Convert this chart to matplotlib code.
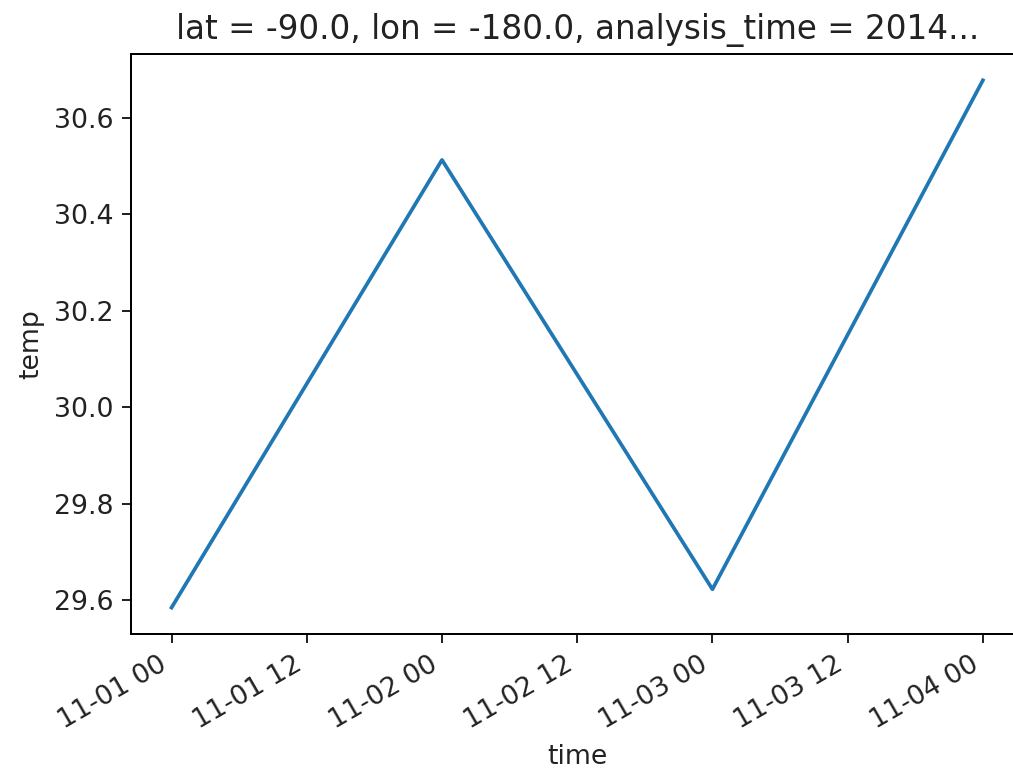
import matplotlib
matplotlib.use("Agg")
import matplotlib.pyplot as plt
import matplotlib.dates as mdates
import numpy as np

times = np.array(["2014-11-01T00", "2014-11-02T00", "2014-11-03T00", "2014-11-04T00"], dtype="datetime64[h]")
temp = [29.585, 30.513, 29.623, 30.678]
title = "lat = -90.0, lon = -180.0, analysis_time = 2014..."

dpi = 178
fig = plt.figure(figsize=(1013 / dpi, 772 / dpi), dpi=dpi)
ax = fig.add_axes([0.1293, 0.1788, 0.881, 0.7513])
ax.plot(times.astype("datetime64[s]").astype(object), temp, color="#1f77b4", linewidth=1.5)
ax.xaxis.set_major_locator(mdates.HourLocator(byhour=[0, 12]))
ax.xaxis.set_major_formatter(mdates.DateFormatter("%m-%d %H"))
ax.tick_params(labelsize=10.8, colors="#222222")
for lbl in ax.get_xticklabels():
    lbl.set_rotation(30)
    lbl.set_ha("right")
ax.set_xlabel("time", fontsize=10.8, color="#222222")
ax.set_ylabel("temp", fontsize=10.8, color="#222222")
ax.set_title(title, fontsize=13.2, color="#222222")
fig.savefig("out.png", dpi=dpi)
